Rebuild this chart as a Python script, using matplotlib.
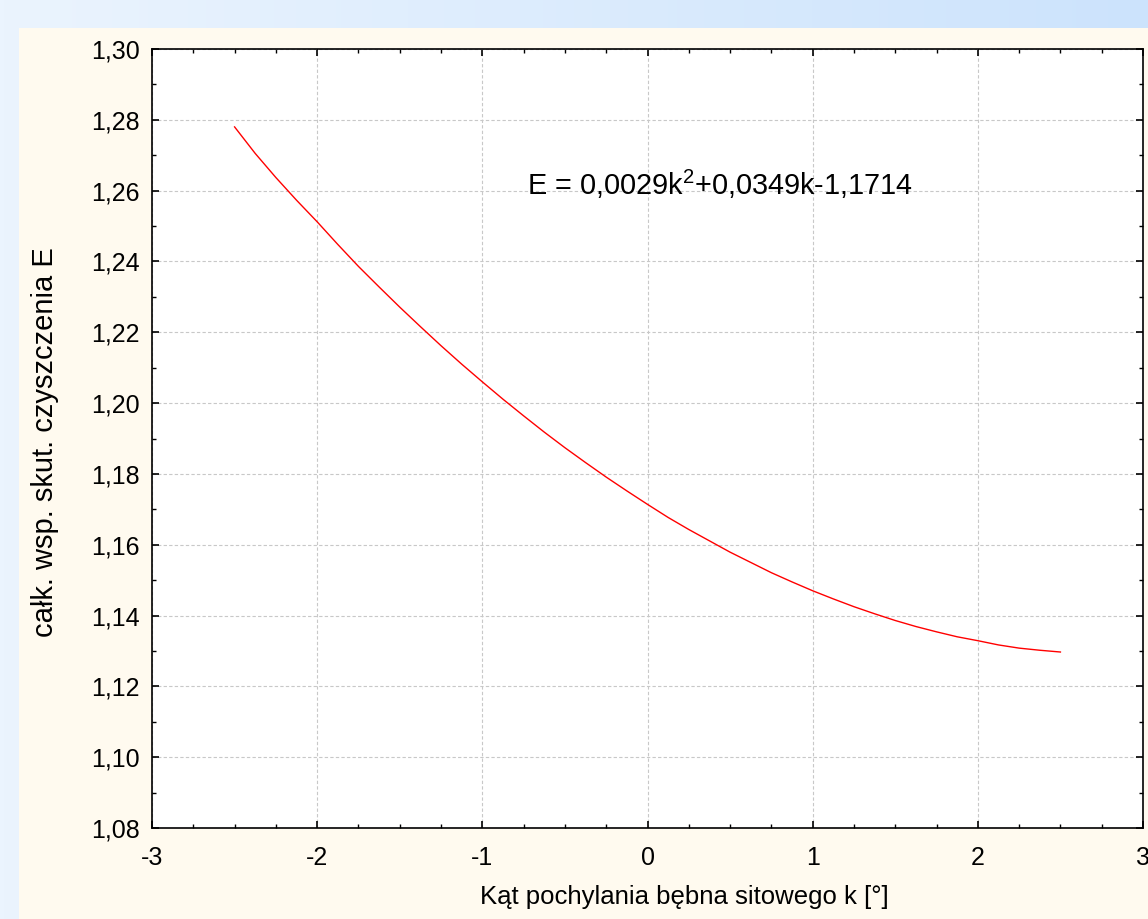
"""
Recreates the quadratic fit plot of the total cleaning efficiency coefficient E
against the sieve drum tilt angle k.
"""

import numpy as np
import matplotlib
matplotlib.use("Agg")
import matplotlib.pyplot as plt
from matplotlib.patches import Rectangle
from matplotlib.colors import LinearSegmentedColormap
from matplotlib.ticker import MultipleLocator

# curve values
K_VALUES = [-2.5, -2.375, -2.25, -2.125, -2.0, -1.875, -1.75, -1.625, -1.5, -1.375,
            -1.25, -1.125, -1.0, -0.875, -0.75, -0.625, -0.5, -0.375, -0.25, -0.125,
            0.0, 0.125, 0.25, 0.375, 0.5, 0.625, 0.75, 0.875, 1.0, 1.125, 1.25,
            1.375, 1.5, 1.625, 1.75, 1.875, 2.0, 2.125, 2.25, 2.375, 2.5]
E_VALUES = [1.2780, 1.2705, 1.2637, 1.2573, 1.2512, 1.2448, 1.2386, 1.2328, 1.2271,
            1.2216, 1.2162, 1.2110, 1.2060, 1.2011, 1.1964, 1.1918, 1.1874, 1.1832,
            1.1791, 1.1752, 1.1714, 1.1677, 1.1643, 1.1611, 1.1579, 1.1550, 1.1521,
            1.1495, 1.1470, 1.1447, 1.1425, 1.1405, 1.1386, 1.1369, 1.1354, 1.1340,
            1.1329, 1.1317, 1.1308, 1.1302, 1.1297]

X_TICKS = [-3, -2, -1, 0, 1, 2, 3]
X_TICK_LABELS = ["-3", "-2", "-1", "0", "1", "2", "3"]
Y_TICKS = [1.08, 1.10, 1.12, 1.14, 1.16, 1.18, 1.20, 1.22, 1.24, 1.26, 1.28, 1.30]
Y_TICK_LABELS = ["1,08", "1,10", "1,12", "1,14", "1,16", "1,18", "1,20", "1,22",
                 "1,24", "1,26", "1,28", "1,30"]

X_LABEL = "Kąt pochylania bębna sitowego k [°]"
Y_LABEL = "całk. wsp. skut. czyszczenia E"
EQUATION = r"E = 0,0029$\mathregular{k^2}$+0,0349k-1,1714"

W, H = 1148, 919

plt.rcParams["font.family"] = ["Liberation Sans", "DejaVu Sans"]

fig = plt.figure(figsize=(W / 100, H / 100), dpi=100)

# slide-like background: blue gradient with a cream panel
bg = fig.add_axes([0, 0, 1, 1], zorder=-10)
grad = np.linspace(0, 1, 256).reshape(1, -1)
cmap = LinearSegmentedColormap.from_list("bg", ["#ebf4fe", "#cce3fc"])
bg.imshow(grad, extent=[0, 1, 0, 1], aspect="auto", cmap=cmap)
bg.add_patch(Rectangle((19 / W, 0), 1 - 19 / W, 1 - 28 / H, color="#fffaef", lw=0))
bg.set_xlim(0, 1)
bg.set_ylim(0, 1)
bg.axis("off")

ax = fig.add_axes([152 / W, 1 - 828 / H, 991 / W, 779 / H])
ax.set_facecolor("white")

ax.plot(K_VALUES, E_VALUES, color="red", lw=1.0)

ax.set_xlim(-3, 3)
ax.set_ylim(1.08, 1.30)
ax.set_xticks(X_TICKS)
ax.set_xticklabels(X_TICK_LABELS)
ax.set_yticks(Y_TICKS)
ax.set_yticklabels(Y_TICK_LABELS)
ax.xaxis.set_minor_locator(MultipleLocator(0.25))
ax.yaxis.set_minor_locator(MultipleLocator(0.01))

ax.tick_params(which="both", direction="in", top=True, right=True, color="black")
ax.tick_params(which="major", length=5, width=1.2, labelsize=18)
ax.tick_params(axis="x", which="major", pad=13)
ax.tick_params(axis="y", which="major", pad=9)
ax.tick_params(which="minor", length=3, width=1.0)

ax.grid(True, which="major", color="#c8c8c8", linestyle=(0, (3, 2)), lw=0.8)
for s in ax.spines.values():
    s.set_linewidth(1.2)
    s.set_color("black")

ax.set_xlabel(X_LABEL, fontsize=18.5)
ax.set_ylabel(Y_LABEL, fontsize=21)
ax.xaxis.set_label_coords((684 - 152) / 991, -(885 - 828) / 779)
ax.yaxis.set_label_coords(-(152 - 45) / 991, 0.495)
ax.yaxis.label.set_va("center")

ax.text(-0.73, 1.2588, EQUATION, fontsize=20.8, ha="left", va="baseline")

fig.savefig("out.png", dpi=100)
